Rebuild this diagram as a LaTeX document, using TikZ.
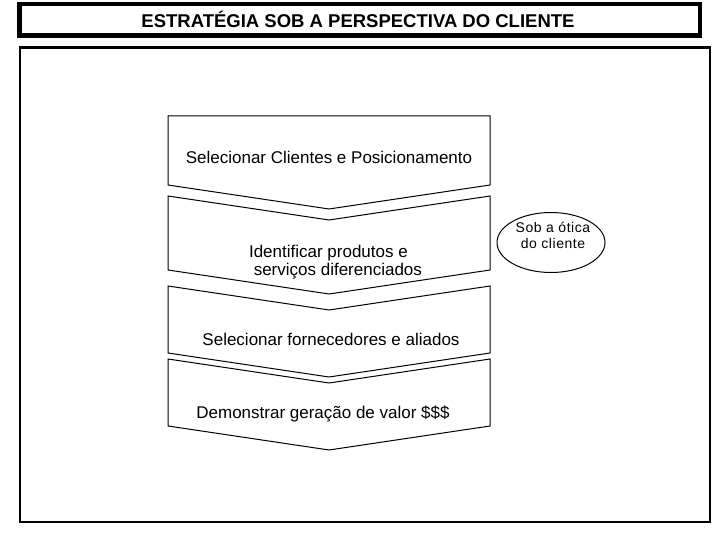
\documentclass[tikz,border=0pt]{standalone}
\usepackage{fontspec}
\setmainfont{Liberation Sans}
\begin{document}
\begin{tikzpicture}[x=1pt,y=-1pt,
  chevron/.style={draw, line width=1pt, line join=miter},
  steptext/.style={font=\fontsize{17}{18}\selectfont, align=left, inner sep=0pt}]
  \useasboundingbox (0,0) rectangle (720,540);

  % frames
  \draw[line width=4.5pt] (19.5,4) rectangle (700,35.5);
  \node (title) at (358,19.5) {\fontsize{18.5}{20}\selectfont\bfseries ESTRATÉGIA SOB A PERSPECTIVA DO CLIENTE};
  \draw[line width=2.5pt] (20,47.5) rectangle (710,522);

  % chevrons
  \draw[chevron] (168,116) -- (490,116) -- (490,185) -- (329,209) -- (168,185) -- cycle;
  \foreach \t/\b in {196/270, 286/353, 359/426}
    \draw[chevron] (168,\t) -- (329,\t+24) -- (490,\t) -- (490,\b) -- (329,\b+24) -- (168,\b) -- cycle;

  % steps
  \node[steptext, anchor=base] (clientes) at (329,164) {Selecionar Clientes e Posicionamento};
  \node[steptext] (produtos) at (335.5,262) {Identificar produtos e\\ \ serviços diferenciados};
  \node[steptext, anchor=base] (fornecedores) at (331,345) {Selecionar fornecedores e aliados};
  \node[steptext, anchor=base] (valor) at (323,418) {Demonstrar geração de valor \$\$\$};

  % customer view
  \draw[line width=1pt] (551,242.5) ellipse (54 and 30);
  \node[align=center, inner sep=0pt, font=\fontsize{14}{15.5}\selectfont\addfontfeature{LetterSpace=4}] (otica) at (553,235.5) {Sob a ótica\\do cliente};
\end{tikzpicture}
\end{document}
